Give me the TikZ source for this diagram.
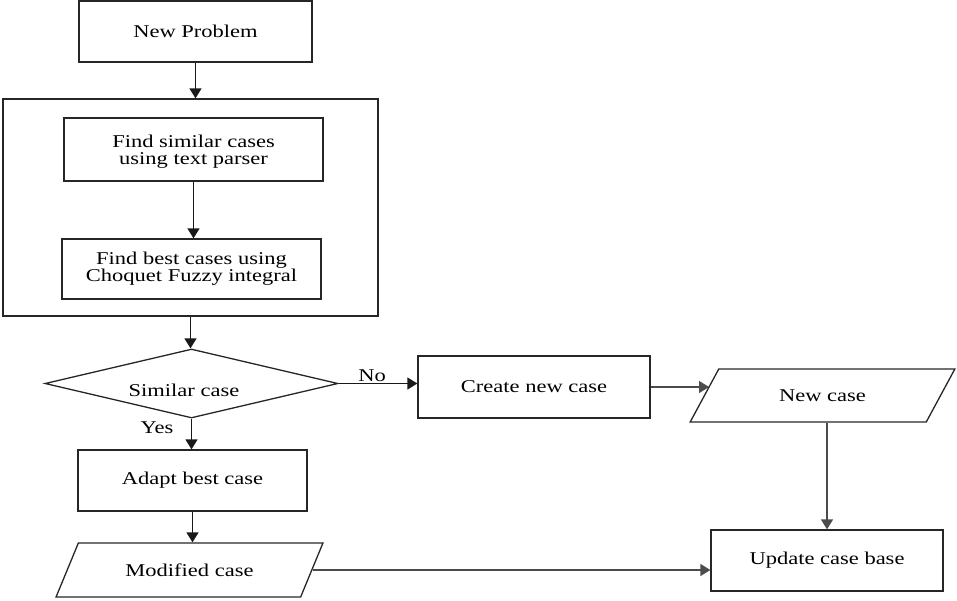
\documentclass[tikz,border=0pt]{standalone}
\usepackage{fontspec}
\setmainfont{Liberation Serif}[FakeStretch=1.25]
\usetikzlibrary{shapes.geometric,arrows.meta}
\newcommand\mytxt{\fontsize{18}{17}\selectfont\lineskiplimit=-20pt\relax}
\begin{document}
\begin{tikzpicture}[x=1pt,y=-1pt,
  box/.style={draw=black!85, line width=1.3pt, rectangle, inner sep=0pt, align=center, font=\mytxt},
  dia/.style={draw=black!85, line width=1.3pt, diamond, inner sep=0pt, minimum width=293pt, minimum height=69pt},
  para/.style={draw=black!85, line width=1.3pt, trapezium, trapezium left angle=45, trapezium right angle=135, trapezium stretches=true, inner sep=0pt, font=\mytxt},
  lbl/.style={inner sep=0pt, font=\mytxt},
  arr/.style={draw=black!90, line width=1.4pt, -{Triangle[length=10pt,width=12pt]}},
  garr/.style={draw=black!70, line width=1.4pt, -{Triangle[length=10pt,width=12pt]}}
]
\useasboundingbox (0,0) rectangle (957,600);
\node[box, minimum width=233pt, minimum height=61pt] (np) at (195.5,31.5) {New Problem};
\node[box, minimum width=375pt, minimum height=217pt] (big) at (190.5,207.5) {};
\node[box, minimum width=259pt, minimum height=63pt] (fs) at (193.5,149.5) {\rule{0pt}{17pt}Find similar cases\\using text parser};
\node[box, minimum width=259pt, minimum height=60pt] (fb) at (191.5,269) {Find best cases using\\Choquet Fuzzy integral};
\node[dia] (sim) at (191.5,383.5) {};
\node[lbl] (simt) at (184,390) {Similar case};
\node[box, minimum width=232pt, minimum height=62pt] (cr) at (534,387) {Create new case};
\node[para, minimum width=265pt, minimum height=53pt] (nc) at (822.5,395.5) {New case};
\node[box, minimum width=229pt, minimum height=61pt] (ad) at (192.5,480.5) {Adapt best case};
\node[para, minimum width=267pt, minimum height=54pt] (mc) at (189.5,570) {Modified case};
\node[box, minimum width=232pt, minimum height=61pt] (up) at (827,560.5) {Update case base};
\node[lbl] (no) at (372,376) {No};
\node[lbl] (yes) at (157,428) {Yes};
\coordinate (nctip) at (709,387);

\draw[arr] (np.south) -- (np.south |- big.north);
\draw[arr] (fs.south) -- (fs.south |- fb.north);
\draw[arr] (big.south) -- (big.south |- sim.north);
\draw[arr] (sim.east) -- (sim.east -| cr.west);
\draw[arr] (sim.south) -- (sim.south |- ad.north);
\draw[arr] (ad.south) -- (ad.south |- mc.north);
\draw[garr] (cr.east) -- (nctip);
\draw[garr] (up.north |- nc.south) -- (up.north);
\draw[garr] (mc.east) -- (mc.east -| up.west);
\end{tikzpicture}
\end{document}
